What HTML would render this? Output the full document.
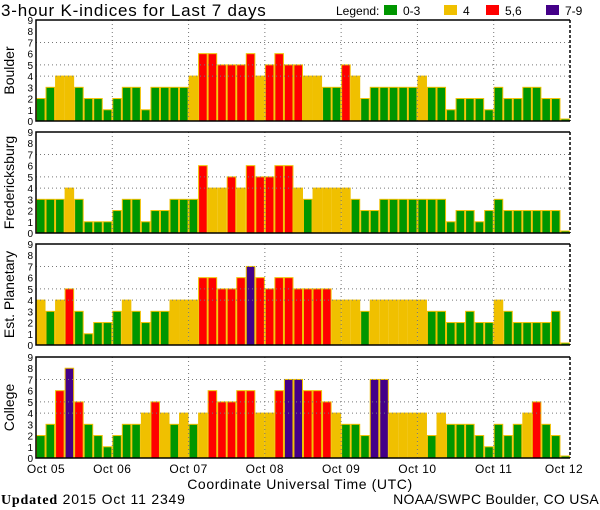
<!DOCTYPE html>
<html><head><meta charset="utf-8">
<style>
body{margin:0;background:#fff;}
svg{display:block;font-family:"Liberation Sans",sans-serif;}
</style></head>
<body>
<svg id="chart" width="600" height="510" viewBox="0 0 600 510">
<text x="1" y="16" font-size="17" letter-spacing="0.8">3-hour K-indices for Last 7 days</text>
<g font-size="12">
<text x="336" y="15">Legend:</text>
<rect x="384" y="5" width="13" height="10" fill="#009600"/>
<text x="403" y="15">0-3</text>
<rect x="444" y="5" width="13" height="10" fill="#f0c000"/>
<text x="463" y="15">4</text>
<rect x="486" y="5" width="13" height="10" fill="#ff0000"/>
<text x="505" y="15">5,6</text>
<rect x="546" y="5" width="13" height="10" fill="#440088"/>
<text x="565" y="15">7-9</text>
</g>
<g id="panels"></g>
<text x="300" y="489" font-size="14" letter-spacing="0.6" text-anchor="middle">Coordinate Universal Time (UTC)</text>
<text x="1" y="504" font-size="14" letter-spacing="0.8"><tspan font-family="Liberation Serif" font-weight="bold">Updated</tspan> 2015 Oct 11 2349</text>
<text x="599" y="504" font-size="14" letter-spacing="0.3" text-anchor="end">NOAA/SWPC Boulder, CO USA</text>
</svg>
<script>
const stations = ["Boulder","Fredericksburg","Est. Planetary","College"];
const dayLabels = ["Oct 05","Oct 06","Oct 07","Oct 08","Oct 09","Oct 10","Oct 11","Oct 12"];
const yTicks = [0,1,2,3,4,5,6,7,8,9];
const gridLevels = [4,5,7];
const boulder = [2,3,4,4,3,2,2,1, 2,3,3,1,3,3,3,3, 4,6,6,5,5,5,6,4, 5,6,5,5,4,4,3,3, 5,4,2,3,3,3,3,3, 4,3,3,1,2,2,2,1, 3,2,2,3,3,2,2,0];
const fredericksburg = [3,3,3,4,3,1,1,1, 2,3,3,1,2,2,3,3, 3,6,4,4,5,4,6,5, 5,6,6,4,3,4,4,4, 4,3,2,2,3,3,3,3, 3,3,3,1,2,2,1,2, 3,2,2,2,2,2,2,0];
const planetary = [4,3,4,5,3,1,2,2, 3,4,3,2,3,3,4,4, 4,6,6,5,5,6,7,6, 5,6,6,5,5,5,5,4, 4,4,3,4,4,4,4,4, 4,3,3,2,2,3,2,2, 4,3,2,2,2,2,3,0];
const college = [2,3,6,8,5,3,2,1, 2,3,3,4,5,4,3,4, 3,4,6,5,5,6,6,4, 4,6,7,7,6,6,5,4, 3,3,2,7,7,4,4,4, 4,2,4,3,3,3,2,1, 3,2,3,4,5,3,2,0];
const series = [boulder,fredericksburg,planetary,college];

const NS="http://www.w3.org/2000/svg";
const g=document.getElementById("panels");
function mk(tag,attrs,parent){const e=document.createElementNS(NS,tag);for(const k in attrs)e.setAttribute(k,attrs[k]);(parent||g).appendChild(e);return e;}
const X0=36,X1=570;
const panelTops=[20,132,244,357];
const PH=101;
const nBars=56;
const bw=(X1-X0)/nBars;
function xScale(i){return X0+i*bw;}
function dayX(d){return X0+d*(X1-X0)/7;}
function color(v){return v<=3?"#009600":v==4?"#f0c000":v<=6?"#ff0000":"#440088";}

series.forEach((data,p)=>{
  const top=panelTops[p], bot=top+PH;
  const yScale=v=>bot-v*(PH/9);
  const pg=mk("g",{});
  
  
  data.forEach((v,i)=>{
    const h=v===0?2:bot-yScale(v);
    const r=mk("rect",{x:xScale(i)+0.5,y:bot-h,width:bw-1,height:h,fill:color(v),stroke:"#f0c000","stroke-width":1},pg);
    
    
  });
  gridLevels.forEach(l=>{
    const ln=mk("line",{x1:X0,x2:X1,y1:yScale(l),y2:yScale(l),stroke:"#777","stroke-dasharray":"1,3","stroke-width":1},pg);
    
    
  });
  for(let d=1;d<7;d++){
    const ln=mk("line",{x1:dayX(d),x2:dayX(d),y1:top,y2:bot,stroke:"#777","stroke-dasharray":"1,3","stroke-width":1},pg);
    
    
  }
  const fr=mk("path",{d:`M${X1},${top} L${X0},${top} L${X0},${bot} L${X1},${bot}`,fill:"none",stroke:"#000","stroke-width":1.5},pg);
  
  
  const re=mk("line",{x1:X1,x2:X1,y1:top,y2:bot,stroke:"#000","stroke-dasharray":"3,2","stroke-width":1.5},pg);
  
  
  yTicks.forEach(t=>{
    const tx=mk("text",{x:33,y:yScale(t)+4,"font-size":10,"text-anchor":"end"},pg);
    tx.textContent=t;
    
    
  });
  const cy=(top+bot)/2;
  const sl=mk("text",{x:14,y:cy,"font-size":14,"text-anchor":"middle",transform:`rotate(-90 14 ${cy})`},pg);
  sl.textContent=stations[p];
  
  
});
dayLabels.forEach((lab,d)=>{
  let cx=dayX(d);
  if(d===0)cx=46; if(d===7)cx=564;
  const t=mk("text",{x:cx,y:473,"font-size":12,"letter-spacing":"0.5","text-anchor":"middle"});
  t.textContent=lab;
  
  
});
</script>
</body></html>
